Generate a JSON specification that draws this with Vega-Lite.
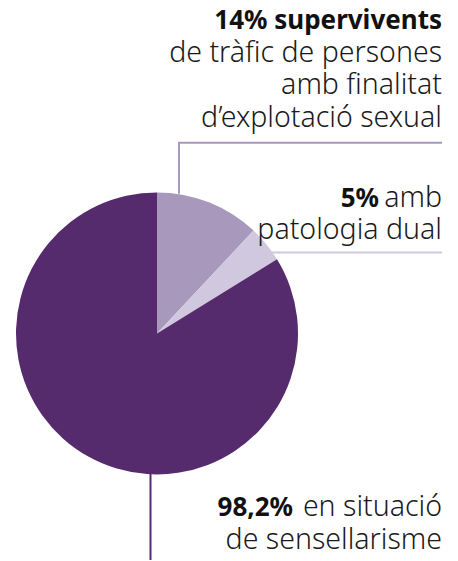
{
  "$schema": "https://vega.github.io/schema/vega-lite/v6.json",
  "width": 458,
  "height": 561,
  "autosize": {"type": "fit", "contains": "padding"},
  "padding": 0,
  "background": "white",
  "config": {"view": {"stroke": null}},
  "datasets": {
    "slices": [
      {"group": "supervivents", "share": 12, "rank": 1},
      {"group": "patologia", "share": 4.2, "rank": 2},
      {"group": "sensellarisme", "share": 83.8, "rank": 3}
    ],
    "leaders": [
      {"group": "supervivents", "x": 179, "y": 143, "x2": 179, "y2": 194},
      {"group": "supervivents", "x": 178, "y": 143, "x2": 442, "y2": 143},
      {"group": "patologia", "x": 272, "y": 253, "x2": 442, "y2": 253},
      {"group": "sensellarisme", "x": 150.5, "y": 474, "x2": 150.5, "y2": 561}
    ],
    "labels": [
      {"group": "supervivents", "part": "lead", "text": "14% supervivents", "x": 442, "y": 29},
      {"group": "supervivents", "part": "detail", "text": "de tràfic de persones\namb finalitat\nd’explotació sexual", "x": 442, "y": 62},
      {"group": "patologia", "part": "lead", "text": "5%", "x": 379, "y": 207},
      {"group": "patologia", "part": "detail", "text": "amb\npatologia dual", "x": 442, "y": 207},
      {"group": "sensellarisme", "part": "lead", "text": "98,2%", "x": 293, "y": 517},
      {"group": "sensellarisme", "part": "detail", "text": "en situació\nde sensellarisme", "x": 442, "y": 517}
    ]
  },
  "layer": [
    {
      "data": {"name": "slices"},
      "mark": {"type": "arc", "outerRadius": 141},
      "encoding": {
        "x": {"datum": 157, "type": "quantitative", "scale": {"domain": [0, 458], "nice": false, "zero": false}, "axis": null},
        "y": {"datum": 334, "type": "quantitative", "scale": {"domain": [0, 561], "reverse": true, "nice": false, "zero": false}, "axis": null},
        "theta": {"field": "share", "type": "quantitative", "stack": true},
        "order": {"field": "rank", "type": "quantitative"},
        "color": {
          "field": "group", "type": "nominal",
          "scale": {"domain": ["supervivents", "patologia", "sensellarisme"], "range": ["#a898bb", "#d0c8de", "#552b6e"]},
          "legend": null
        }
      }
    },
    {
      "data": {"name": "leaders"},
      "mark": {"type": "rule", "strokeWidth": 2},
      "encoding": {
        "x": {"field": "x", "type": "quantitative"},
        "y": {"field": "y", "type": "quantitative"},
        "x2": {"field": "x2"},
        "y2": {"field": "y2"},
        "color": {"field": "group", "type": "nominal", "legend": null}
      }
    },
    {
      "data": {"name": "labels"},
      "transform": [{"filter": "datum.part === 'lead'"}],
      "mark": {"type": "text", "align": "right", "baseline": "alphabetic", "font": "Noto Sans", "fontSize": 26, "fontWeight": "bold", "color": "#111111"},
      "encoding": {
        "x": {"field": "x", "type": "quantitative"},
        "y": {"field": "y", "type": "quantitative"},
        "text": {"field": "text"}
      }
    },
    {
      "data": {"name": "labels"},
      "transform": [{"filter": "datum.part === 'detail'"}],
      "mark": {"type": "text", "align": "right", "baseline": "alphabetic", "lineBreak": "\n", "lineHeight": 32.5, "font": "Noto Sans", "fontSize": 28.5, "fontWeight": 300, "color": "#1a1a1a"},
      "encoding": {
        "x": {"field": "x", "type": "quantitative"},
        "y": {"field": "y", "type": "quantitative"},
        "text": {"field": "text"}
      }
    }
  ]
}
